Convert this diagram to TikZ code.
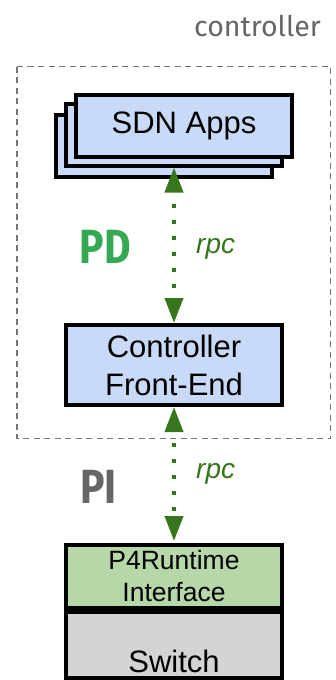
\documentclass[tikz,border=0pt]{standalone}
\usepackage{fontspec}
\setmainfont{Liberation Sans}
\newfontfamily\condfont[FakeStretch=0.85]{Fira Sans}
\newfontfamily\titlefont{Fira Sans}
\usetikzlibrary{arrows.meta}
\definecolor{boxblue}{HTML}{C9DAF8}
\definecolor{boxgreen}{HTML}{B6D7A8}
\definecolor{boxgray}{HTML}{D4D4D4}
\definecolor{arrowgreen}{HTML}{38761D}
\definecolor{pdgreen}{HTML}{34A853}
\definecolor{labgray}{HTML}{666666}
\definecolor{dashgray}{HTML}{757575}
\tikzset{
  blk/.style={draw=black, line width=4pt, inner sep=0pt, align=center,
    minimum width=216pt, font=\fontsize{31}{38}\selectfont},
  rpcarrow/.style={arrowgreen, line width=4pt, dash pattern=on 4pt off 12pt, dash phase=4pt,
    {Triangle[width=18pt,length=25pt]}-{Triangle[width=18pt,length=25pt]}},
  rpclabel/.style={text=arrowgreen, font=\fontsize{28}{32}\selectfont\itshape, anchor=base west, inner sep=0pt},
  biglabel/.style={font=\condfont\bfseries\fontsize{48}{50}\selectfont, anchor=base, inner sep=0pt}
}
\begin{document}
\begin{tikzpicture}[x=1pt,y=-1pt]
\useasboundingbox (0,0) rectangle (336,680);
% controller title
\node[text=labgray, font=\titlefont\fontsize{28.5}{30}\selectfont, anchor=base east, inner sep=0pt] (ctitle) at (321,36) {controller};
% dashed controller area
\draw[dashgray, line width=1.5pt, dash pattern=on 6pt off 4.5pt] (17,66.5) rectangle (330.5,438.5);
% SDN apps stack
\node[blk, fill=boxblue, minimum height=62pt] (app3) at (164,145.5) {};
\node[blk, fill=boxblue, minimum height=62pt] (app2) at (174,135) {};
\node[blk, fill=boxblue, minimum height=62pt] (apps) at (184,125.5) {SDN Apps};
% controller front-end
\node[blk, fill=boxblue, minimum height=80pt] (cfe) at (174,365) {Controller\\Front-End};
% switch
\node[blk, fill=boxgray, minimum height=66pt] (sw) at (174,645) {};
\node[font=\fontsize{31}{38}\selectfont, anchor=base, inner sep=0pt] (swlabel) at (174,672) {Switch};
\node[blk, fill=boxgreen, minimum height=63pt, font=\fontsize{26.5}{32}\selectfont] (p4rt) at (174,576.5) {P4Runtime\\Interface};
% connectors
\draw[rpcarrow] ([yshift=11pt]app3.south -| cfe.north) -- (cfe.north);
\draw[rpcarrow, shorten >=2pt] (cfe.south) -- (p4rt.north);
% labels
\node[rpclabel] (rpc1) at (196,253) {rpc};
\node[rpclabel] (rpc2) at (196,478) {rpc};
\node[biglabel, text=pdgreen] (pd) at (105.5,263) {PD};
\node[biglabel, text=labgray] (pi) at (98.5,503) {PI};
\end{tikzpicture}
\end{document}
